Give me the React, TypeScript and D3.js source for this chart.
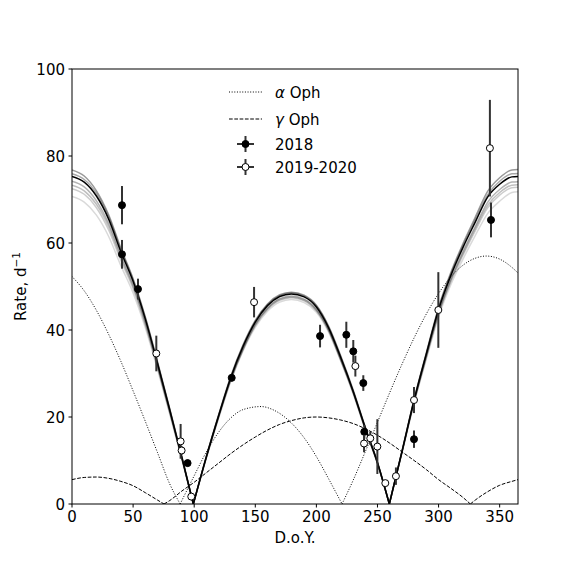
import React from 'react';
import * as d3 from 'd3';

// model curves at these days
const fitDays = [0, 10, 20, 30, 40, 50, 60, 70, 80, 90, 99.3, 110, 120, 130, 140, 150, 160, 170, 179.5, 190, 200, 210, 220, 230, 240, 250, 259.7, 270, 280, 290, 300, 310, 320, 330, 340, 350, 360, 365];
const fitBest = [75.3, 74.0, 70.8, 65.5, 58.0, 51.2, 42.5, 32.3, 21.6, 10.6, 0, 10.9, 20.3, 29.1, 36.2, 41.8, 45.6, 47.7, 48.3, 47.6, 45.3, 40.5, 33.6, 26.0, 17.5, 9.5, 0, 12.0, 23.9, 34.5, 44.7, 52.5, 59.0, 64.8, 70.5, 73.5, 75.2, 75.3];
const fitDraws = [
  [76.8, 75.4, 72.0, 66.5, 58.8, 51.8, 43.0, 32.7, 21.9, 10.8, 0, 11.0, 20.5, 29.4, 36.6, 42.2, 46.0, 48.1, 48.7, 48.0, 45.7, 40.9, 34.0, 26.3, 17.7, 9.6, 0, 12.1, 24.1, 34.8, 45.2, 53.2, 59.9, 65.9, 71.8, 75.0, 76.8, 76.9],
  [75.9, 74.6, 71.4, 66.0, 58.4, 51.5, 42.8, 32.5, 21.8, 10.7, 0, 11.0, 20.4, 29.2, 36.4, 42.0, 45.8, 47.9, 48.5, 47.8, 45.5, 40.7, 33.8, 26.1, 17.6, 9.5, 0, 12.0, 24.0, 34.6, 44.9, 52.8, 59.4, 65.3, 71.0, 74.2, 75.9, 76.0],
  [74.2, 72.9, 69.7, 64.5, 57.2, 50.5, 42.0, 31.9, 21.3, 10.5, 0, 10.8, 20.1, 28.8, 35.8, 41.4, 45.1, 47.2, 47.8, 47.1, 44.8, 40.1, 33.3, 25.8, 17.3, 9.4, 0, 11.9, 23.6, 34.1, 44.1, 51.8, 58.1, 63.8, 69.3, 72.3, 74.0, 74.1],
  [73.3, 72.0, 68.9, 63.8, 56.6, 50.0, 41.6, 31.6, 21.1, 10.4, 0, 10.7, 20.0, 28.6, 35.6, 41.2, 44.9, 47.0, 47.6, 46.9, 44.6, 40.0, 33.1, 25.7, 17.2, 9.3, 0, 11.8, 23.5, 33.9, 43.8, 51.4, 57.6, 63.3, 68.6, 71.6, 73.3, 73.4],
  [72.5, 71.2, 68.1, 63.0, 56.0, 49.5, 41.2, 31.4, 21.0, 10.3, 0, 10.7, 19.9, 28.5, 35.5, 41.0, 44.7, 46.8, 47.4, 46.7, 44.4, 39.8, 33.0, 25.6, 17.2, 9.3, 0, 11.8, 23.4, 33.7, 43.6, 51.1, 57.2, 62.8, 68.0, 71.0, 72.7, 72.8],
  [70.7, 69.4, 66.4, 61.5, 54.8, 48.5, 40.5, 30.9, 20.6, 10.1, 0, 10.6, 19.7, 28.2, 35.2, 40.6, 44.3, 46.4, 47.0, 46.3, 44.1, 39.5, 32.8, 25.4, 17.1, 9.3, 0, 11.7, 23.2, 33.3, 43.0, 50.4, 56.3, 61.7, 66.7, 69.6, 71.6, 71.8],
];
const drawOpacity = [0.4, 0.35, 0.3, 0.25, 0.2, 0.15];

const alphaDays = [0, 10, 20, 30, 40, 50, 60, 70, 80, 88.5, 100, 110, 120, 130, 140, 154.8, 165, 180, 190, 200, 210, 221, 230, 240, 250, 260, 270, 280, 290, 300, 310, 320, 330, 339, 350, 360, 365];
const alphaRate = [52.3, 49.0, 44.5, 39.0, 32.8, 26.0, 19.0, 11.8, 4.6, 0, 6.5, 12.0, 16.5, 19.8, 21.7, 22.4, 21.6, 18.5, 15.2, 10.9, 5.8, 0, 5.4, 12.0, 18.8, 25.6, 32.1, 38.2, 43.7, 48.4, 52.2, 54.9, 56.5, 57.0, 56.3, 54.4, 53.1];

const gammaDays = [0, 10, 20, 30, 40, 50, 60, 70, 75.3, 80, 90, 100, 110, 120, 130, 140, 150, 160, 170, 180, 190, 200, 210, 220, 230, 240, 250, 260, 270, 280, 290, 300, 310, 320, 326, 330, 340, 350, 360, 365];
const gammaRate = [5.6, 6.1, 6.2, 5.9, 5.2, 4.2, 2.6, 0.9, 0, 0.8, 3.0, 5.0, 7.2, 9.4, 11.6, 13.6, 15.4, 17.0, 18.3, 19.2, 19.8, 20.0, 19.8, 19.3, 18.5, 17.3, 15.8, 14.0, 12.0, 10.0, 7.9, 5.6, 3.6, 1.5, 0, 0.9, 2.8, 4.3, 5.2, 5.6];

// observations
const obs2018Day = [40.9, 40.9, 54, 94.6, 130.7, 203, 224.5, 230.2, 238.4, 239.2, 279.9, 342.9];
const obs2018Rate = [68.7, 57.4, 49.4, 9.4, 29.0, 38.6, 38.9, 35.1, 27.8, 16.6, 14.9, 65.3];
const obs2018Err = [4.4, 3.3, 2.4, 0.8, 0.8, 2.6, 3.0, 2.6, 1.8, 1.6, 2.0, 4.0];

const obs1920Day = [69, 88.9, 89.7, 97.6, 149, 231.9, 239, 244.1, 249.9, 256.4, 265.1, 279.9, 299.8, 342];
const obs1920Rate = [34.6, 14.4, 12.3, 1.7, 46.4, 31.7, 13.9, 15.1, 13.2, 4.8, 6.4, 23.9, 44.6, 81.8];
const obs1920Err = [4.1, 4.0, 1.0, 0.5, 3.5, 2.4, 2.0, 1.5, 6.3, 0.5, 2.0, 3.0, 8.7, 11.1];

const xTicks = [0, 50, 100, 150, 200, 250, 300, 350];
const yTicks = [0, 20, 40, 60, 80, 100];

const W = 576;
const H = 576;
const M = { left: 72, right: 58, top: 69, bottom: 72 };
const FONT = 'DejaVu Sans, sans-serif';
const FS = 15;

// split a |f| curve at its zero points so the cusps stay sharp
function segments(days: number[], vals: number[]) {
  const out: [number, number][][] = [];
  let cur: [number, number][] = [];
  days.forEach((d, i) => {
    cur.push([d, vals[i]]);
    if (vals[i] === 0 && i > 0 && i < days.length - 1) {
      out.push(cur);
      cur = [[d, 0]];
    }
  });
  out.push(cur);
  return out;
}

export default function App() {
  const x = d3.scaleLinear().domain([0, 365]).range([M.left, W - M.right]);
  const y = d3.scaleLinear().domain([0, 100]).range([H - M.bottom, M.top]);
  const line = d3
    .line<[number, number]>()
    .x((d) => x(d[0]))
    .y((d) => y(d[1]))
    .curve(d3.curveMonotoneX);

  const path = (days: number[], vals: number[]) =>
    segments(days, vals).map((s) => line(s)).join('');

  const errPoints = (days: number[], rates: number[], errs: number[], open: boolean) =>
    days.map((d, i) => (
      <g key={i}>
        <line x1={x(d)} x2={x(d)} y1={y(rates[i] - errs[i])} y2={y(rates[i] + errs[i])} stroke="#333" strokeWidth={2} />
        <circle cx={x(d)} cy={y(rates[i])} r={3.5} fill={open ? '#fff' : '#000'} stroke="#000" strokeWidth={1} />
      </g>
    ));

  const lx = 229;
  const ly = [92, 119, 144, 167];

  return (
    <svg width={W} height={H} style={{ display: 'block', margin: '-8px' }} fontFamily={FONT}>
      <rect width={W} height={H} fill="#fff" />
      <defs>
        <clipPath id="plot">
          <rect x={M.left} y={M.top} width={W - M.left - M.right} height={H - M.top - M.bottom} />
        </clipPath>
      </defs>
      <g clipPath="url(#plot)">
        <path d={path(alphaDays, alphaRate)} fill="none" stroke="#000" strokeWidth={1} strokeDasharray="1,1.65" />
        <path d={path(gammaDays, gammaRate)} fill="none" stroke="#000" strokeWidth={1} strokeDasharray="3.7,1.6" />
        {fitDraws.map((vals, i) => (
          <path key={i} d={path(fitDays, vals)} fill="none" stroke="#000" strokeOpacity={drawOpacity[i]} strokeWidth={1.5} />
        ))}
        <path d={path(fitDays, fitBest)} fill="none" stroke="#000" strokeWidth={1.5} />
        {errPoints(obs2018Day, obs2018Rate, obs2018Err, false)}
        {errPoints(obs1920Day, obs1920Rate, obs1920Err, true)}
      </g>

      <rect x={M.left} y={M.top} width={W - M.left - M.right} height={H - M.top - M.bottom} fill="none" stroke="#000" strokeWidth={1} />

      {xTicks.map((t) => (
        <g key={t}>
          <line x1={x(t)} x2={x(t)} y1={H - M.bottom} y2={H - M.bottom + 3.5} stroke="#000" />
          <text x={x(t)} y={H - M.bottom + 18} textAnchor="middle" fontSize={FS}>{t}</text>
        </g>
      ))}
      {yTicks.map((t) => (
        <g key={t}>
          <line x1={M.left - 3.5} x2={M.left} y1={y(t)} y2={y(t)} stroke="#000" />
          <text x={M.left - 7} y={y(t) + 5.5} textAnchor="end" fontSize={FS}>{t}</text>
        </g>
      ))}
      <text x={(M.left + W - M.right) / 2} y={543} textAnchor="middle" fontSize={FS}>D.o.Y.</text>
      <text transform={`translate(26,${(M.top + H - M.bottom) / 2}) rotate(-90)`} textAnchor="middle" fontSize={FS}>
        Rate, d<tspan dy={-6} fontSize={10.5}>−1</tspan>
      </text>

      <g fontSize={FS}>
        <line x1={lx} x2={lx + 33} y1={ly[0]} y2={ly[0]} stroke="#000" strokeDasharray="1,1.65" />
        <text x={275} y={ly[0] + 5.5}><tspan fontStyle="italic">α</tspan> Oph</text>
        <line x1={lx} x2={lx + 33} y1={ly[1]} y2={ly[1]} stroke="#000" strokeDasharray="3.7,1.6" />
        <text x={275} y={ly[1] + 5.5}><tspan fontStyle="italic">γ</tspan> Oph</text>
        {[false, true].map((open, i) => (
          <g key={i}>
            <line x1={lx + 8} x2={lx + 25} y1={ly[2 + i]} y2={ly[2 + i]} stroke="#333" strokeWidth={2} />
            <line x1={lx + 16.5} x2={lx + 16.5} y1={ly[2 + i] - 8} y2={ly[2 + i] + 8} stroke="#333" strokeWidth={2} />
            <circle cx={lx + 16.5} cy={ly[2 + i]} r={3.5} fill={open ? '#fff' : '#000'} stroke="#000" />
            <text x={275} y={ly[2 + i] + 5.5}>{open ? '2019-2020' : '2018'}</text>
          </g>
        ))}
      </g>
    </svg>
  );
}
